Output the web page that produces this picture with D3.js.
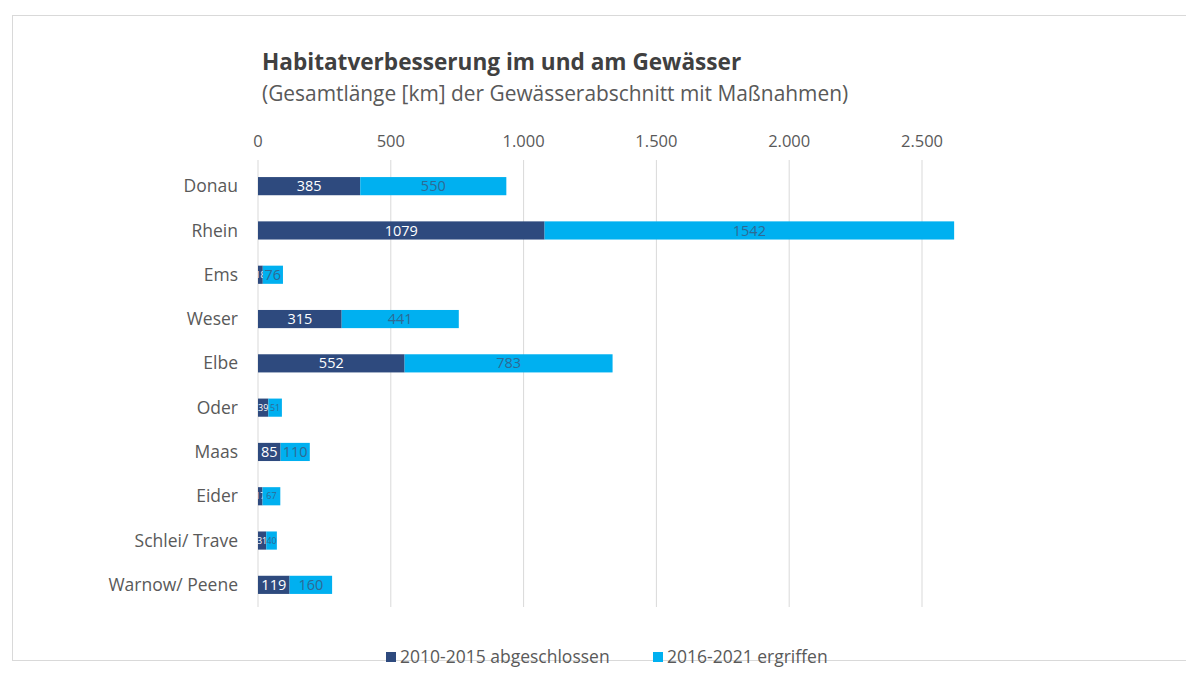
<!DOCTYPE html>
<html>
<head>
<meta charset="utf-8">
<script src="https://cdn.jsdelivr.net/npm/d3@7"></script>
<style>
  body { margin: 0; background: #fff; }
  text { font-family: "Open Sans", "Noto Sans", sans-serif; }
</style>
</head>
<body>
<script>
const width = 1186;
const height = 675;

// data
const rivers = ["Donau", "Rhein", "Ems", "Weser", "Elbe", "Oder", "Maas", "Eider", "Schlei/ Trave", "Warnow/ Peene"];
const done2015 = [385, 1079, 18, 315, 552, 39, 85, 17, 31, 119];
const started2021 = [550, 1542, 76, 441, 783, 51, 110, 67, 40, 160];
const seriesNames = ["2010-2015 abgeschlossen", "2016-2021 ergriffen"];
const seriesColors = ["#2e4a7e", "#00b0f0"];
const xTicks = [0, 500, 1000, 1500, 2000, 2500];

const rows = rivers.map((r, i) => ({ id: i, river: r, a: done2015[i], b: started2021[i] }));

const svg = d3
  .select("body")
  .append("svg")
  .attr("width", width)
  .attr("height", height);

// chart frame
svg.append("rect")
  .attr("x", 12.5).attr("y", 15.5)
  .attr("width", 1200).attr("height", 645)
  .attr("fill", "#fff")
  .attr("stroke", "#d9d9d9");

svg.append("text")
  .attr("x", 262).attr("y", 70)
  .attr("font-size", 22.6).attr("font-weight", "bold")
  .attr("fill", "#404040")
  .text("Habitatverbesserung im und am Gewässer");

svg.append("text")
  .attr("x", 262).attr("y", 101)
  .attr("font-size", 20.9)
  .attr("fill", "#595959")
  .text("(Gesamtlänge [km] der Gewässerabschnitt mit Maßnahmen)");

const x = d3.scaleLinear().domain([0, 2500]).range([258, 922]);
const y = d3.scaleBand().domain(rivers).range([164, 607]).paddingInner(0.59).paddingOuter(0.295);

// gridlines
svg.append("g")
  .selectAll("line")
  .data(xTicks)
  .join("line")
  .attr("x1", (d) => x(d)).attr("x2", (d) => x(d))
  .attr("y1", 160).attr("y2", 607)
  .attr("stroke", "#d9d9d9");

// top axis labels
svg.append("g")
  .selectAll("text")
  .data(xTicks)
  .join("text")
  .attr("x", (d) => x(d))
  .attr("y", 147)
  .attr("text-anchor", "middle")
  .attr("font-size", 16.5)
  .attr("fill", "#595959")
  .text((d) => d3.format(",")(d).replace(/,/g, "."));

// category labels
svg.append("g")
  .selectAll("text")
  .data(rivers)
  .join("text")
  .attr("x", 238)
  .attr("y", (d) => y(d) + y.bandwidth() / 2)
  .attr("dy", "0.35em")
  .attr("text-anchor", "end")
  .attr("font-size", 17.5)
  .attr("fill", "#595959")
  .text((d) => d);

// bars
const bars = svg.append("g");
bars.selectAll("rect.a")
  .data(rows)
  .join("rect")
  .attr("class", "a")
  .attr("x", x(0))
  .attr("y", (d) => y(d.river))
  .attr("width", (d) => x(d.a) - x(0))
  .attr("height", y.bandwidth())
  .attr("fill", seriesColors[0]);

bars.selectAll("rect.b")
  .data(rows)
  .join("rect")
  .attr("class", "b")
  .attr("x", (d) => x(d.a))
  .attr("y", (d) => y(d.river))
  .attr("width", (d) => x(d.a + d.b) - x(d.a))
  .attr("height", y.bandwidth())
  .attr("fill", seriesColors[1]);

// clip each value label to its own segment, like the reference does
const defs = svg.append("defs");
defs.selectAll("clipPath.a")
  .data(rows)
  .join("clipPath")
  .attr("class", "a")
  .attr("id", (d) => "clipA" + d.id)
  .append("rect")
  .attr("x", x(0))
  .attr("y", (d) => y(d.river))
  .attr("width", (d) => x(d.a) - x(0))
  .attr("height", y.bandwidth());
defs.selectAll("clipPath.b")
  .data(rows)
  .join("clipPath")
  .attr("class", "b")
  .attr("id", (d) => "clipB" + d.id)
  .append("rect")
  .attr("x", (d) => x(d.a))
  .attr("y", (d) => y(d.river))
  .attr("width", (d) => x(d.a + d.b) - x(d.a))
  .attr("height", y.bandwidth());

const labelSize = (w) => (w < 20 ? 9 : 14.5);

const labels = svg.append("g");
labels.selectAll("text.a")
  .data(rows)
  .join("text")
  .attr("class", "a")
  .attr("clip-path", (d) => `url(#clipA${d.id})`)
  .attr("x", (d) => (x(0) + x(d.a)) / 2)
  .attr("y", (d) => y(d.river) + y.bandwidth() / 2)
  .attr("dy", "0.35em")
  .attr("text-anchor", "middle")
  .attr("font-size", (d) => labelSize(x(d.a) - x(0)))
  .attr("fill", "#fff")
  .text((d) => d.a);

labels.selectAll("text.b")
  .data(rows)
  .join("text")
  .attr("class", "b")
  .attr("clip-path", (d) => `url(#clipB${d.id})`)
  .attr("x", (d) => (x(d.a) + x(d.a + d.b)) / 2)
  .attr("y", (d) => y(d.river) + y.bandwidth() / 2)
  .attr("dy", "0.35em")
  .attr("text-anchor", "middle")
  .attr("font-size", (d) => labelSize(x(d.a + d.b) - x(d.a)))
  .attr("fill", "#2e6a94")
  .text((d) => d.b);

// legend
const legendX = [386, 653];
const legend = svg.append("g")
  .selectAll("g")
  .data(seriesNames)
  .join("g")
  .attr("transform", (d, i) => `translate(${legendX[i]},657)`);
legend.append("rect")
  .attr("x", 0).attr("y", -5)
  .attr("width", 10).attr("height", 10)
  .attr("fill", (d, i) => seriesColors[i]);
legend.append("text")
  .attr("x", 14).attr("y", 0)
  .attr("dy", "0.35em")
  .attr("font-size", 17.5)
  .attr("fill", "#595959")
  .text((d) => d);
</script>
</body>
</html>
